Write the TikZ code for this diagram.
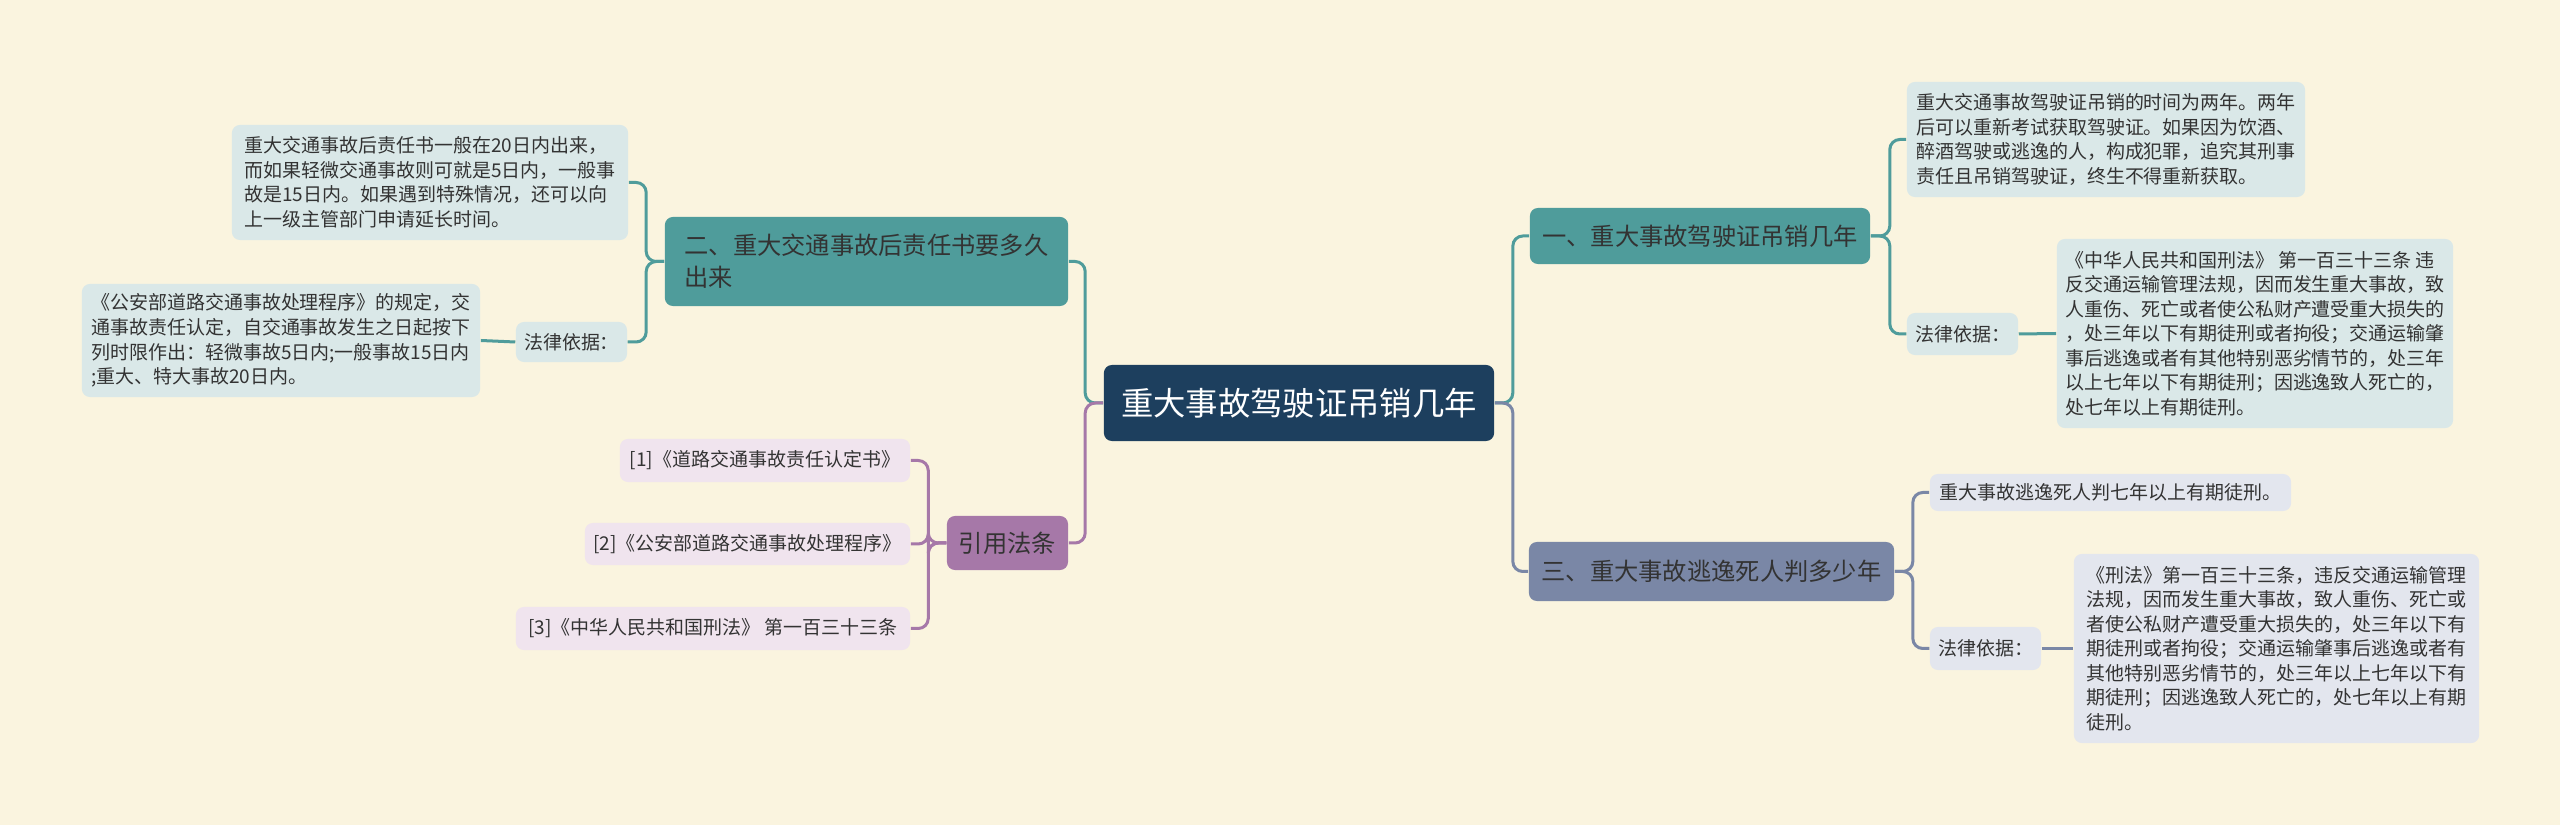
\documentclass[tikz,border=0pt]{standalone}
\usepackage{fontspec}
\setmainfont{Noto Sans CJK SC}
\usepackage{tikz}
\usetikzlibrary{positioning}

\definecolor{bgcream}{HTML}{FAF4DF}
\definecolor{rootblue}{HTML}{1D3F5E}
\definecolor{tealdark}{HTML}{4F9C9B}
\definecolor{teallight}{HTML}{DAE8E8}
\definecolor{purpledark}{HTML}{A678A8}
\definecolor{purplelight}{HTML}{F0E4EE}
\definecolor{slatedark}{HTML}{7A87A6}
\definecolor{slatelight}{HTML}{E3E6EE}
\definecolor{inktext}{HTML}{333333}

\begin{document}
\begin{tikzpicture}[
      x=0.01cm, y=-0.01cm,
      box/.style={rounded corners=0.08cm, inner sep=0.06cm, align=left, text=inktext,
        font=\fontsize{5.4pt}{6.97pt}\selectfont},
      centerbox/.style={box, fill=rootblue, text=white, font=\fontsize{9.2pt}{11pt}\selectfont,
        minimum width=3.9cm, minimum height=0.76cm},
      branchbox/.style={box, font=\fontsize{6.9pt}{9.1pt}\selectfont},
      tealbranch/.style={branchbox, fill=tealdark},
      purplebranch/.style={branchbox, fill=purpledark},
      slatebranch/.style={branchbox, fill=slatedark},
      tealleaf/.style={box, fill=teallight},
      purpleleaf/.style={box, fill=purplelight},
      slateleaf/.style={box, fill=slatelight},
      link/.style={line width=0.03cm, rounded corners=0.1cm},
      tealline/.style={link, draw=tealdark},
      purpleline/.style={link, draw=purpledark},
      slateline/.style={link, draw=slatedark}
    ]
      \fill[bgcream] (0,0) rectangle (2560,825);
      \useasboundingbox (0,0) rectangle (2560,825);

      % centre
      \node[centerbox] (root) at (1299,403) {重大事故驾驶证吊销几年};

      % right side
      \node[tealbranch, minimum width=3.4cm, minimum height=0.56cm] (b1) at (1700,236)
        {一、重大事故驾驶证吊销几年};
      \node[tealleaf, minimum width=3.98cm, minimum height=1.15cm] (b1a) at (2106,139.5)
        {重大交通事故驾驶证吊销的时间为两年。两年\\后可以重新考试获取驾驶证。如果因为饮酒、\\醉酒驾驶或逃逸的人，构成犯罪，追究其刑事\\责任且吊销驾驶证，终生不得重新获取。};
      \node[tealleaf, minimum width=1.11cm, minimum height=0.42cm] (b1b) at (1962.5,334) {法律依据：};
      \node[tealleaf, minimum width=3.96cm, minimum height=1.89cm] (b1c) at (2255,333.5)
        {《中华人民共和国刑法》 第一百三十三条 违\\反交通运输管理法规，因而发生重大事故，致\\人重伤、死亡或者使公私财产遭受重大损失的\\，处三年以下有期徒刑或者拘役；交通运输肇\\事后逃逸或者有其他特别恶劣情节的，处三年\\以上七年以下有期徒刑；因逃逸致人死亡的，\\处七年以上有期徒刑。};

      \node[slatebranch, minimum width=3.65cm, minimum height=0.59cm] (b3) at (1711.5,571.5)
        {三、重大事故逃逸死人判多少年};
      \node[slateleaf, minimum width=3.61cm, minimum height=0.37cm] (b3a) at (2110.5,492.5)
        {重大事故逃逸死人判七年以上有期徒刑。};
      \node[slateleaf, minimum width=1.11cm, minimum height=0.43cm] (b3b) at (1985.5,648.5) {法律依据：};
      \node[slateleaf, minimum width=4.05cm, minimum height=1.89cm] (b3c) at (2276.5,648.5)
        {《刑法》第一百三十三条，违反交通运输管理\\法规，因而发生重大事故，致人重伤、死亡或\\者使公私财产遭受重大损失的，处三年以下有\\期徒刑或者拘役；交通运输肇事后逃逸或者有\\其他特别恶劣情节的，处三年以上七年以下有\\期徒刑；因逃逸致人死亡的，处七年以上有期\\徒刑。};

      % left side
      \node[tealbranch, minimum width=4.03cm, minimum height=0.89cm] (b2) at (866.5,261.5)
        {二、重大交通事故后责任书要多久\\出来};
      \node[tealleaf, minimum width=3.96cm, minimum height=1.15cm] (b2a) at (430,182.5)
        {重大交通事故后责任书一般在20日内出来，\\而如果轻微交通事故则可就是5日内，一般事\\故是15日内。如果遇到特殊情况，还可以向\\上一级主管部门申请延长时间。};
      \node[tealleaf, minimum width=1.11cm, minimum height=0.40cm] (b2b) at (571.5,342) {法律依据：};
      \node[tealleaf, minimum width=3.98cm, minimum height=1.13cm] (b2c) at (281,340.5)
        {《公安部道路交通事故处理程序》的规定，交\\通事故责任认定，自交通事故发生之日起按下\\列时限作出：轻微事故5日内;一般事故15日内\\;重大、特大事故20日内。};

      \node[purplebranch, minimum width=1.21cm, minimum height=0.54cm] (b4) at (1007.5,543) {引用法条};
      \node[purpleleaf, minimum width=2.90cm, minimum height=0.43cm] (b4a) at (765,460.5)
        {[1]《道路交通事故责任认定书》};
      \node[purpleleaf, minimum width=3.25cm, minimum height=0.42cm] (b4b) at (747.5,544)
        {[2]《公安部道路交通事故处理程序》};
      \node[purpleleaf, minimum width=3.94cm, minimum height=0.43cm] (b4c) at (713,628.5)
        {[3]《中华人民共和国刑法》 第一百三十三条};

      % connectors
      \draw[tealline] (root.east) -- ++(18,0) |- (b1.west);
      \draw[slateline] (root.east) -- ++(18,0) |- (b3.west);
      \draw[tealline] (root.west) -- ++(-18,0) |- (b2.east);
      \draw[purpleline] (root.west) -- ++(-18,0) |- (b4.east);

      \draw[tealline] (b1.east) -- ++(19,0) |- (b1a.west);
      \draw[tealline] (b1.east) -- ++(19,0) |- (b1b.west);
      \draw[tealline] (b1b.east) -- (b1c.west);

      \draw[slateline] (b3.east) -- ++(18,0) |- (b3a.west);
      \draw[slateline] (b3.east) -- ++(18,0) |- (b3b.west);
      \draw[slateline] (b3b.east) -- (b3c.west);

      \draw[tealline] (b2.west) -- ++(-18,0) |- (b2a.east);
      \draw[tealline] (b2.west) -- ++(-18,0) |- (b2b.east);
      \draw[tealline] (b2b.west) -- (b2c.east);

      \draw[purpleline] (b4.west) -- ++(-18,0) |- (b4a.east);
      \draw[purpleline] (b4.west) -- ++(-18,0) |- (b4b.east);
      \draw[purpleline] (b4.west) -- ++(-18,0) |- (b4c.east);
    \end{tikzpicture}
\end{document}
